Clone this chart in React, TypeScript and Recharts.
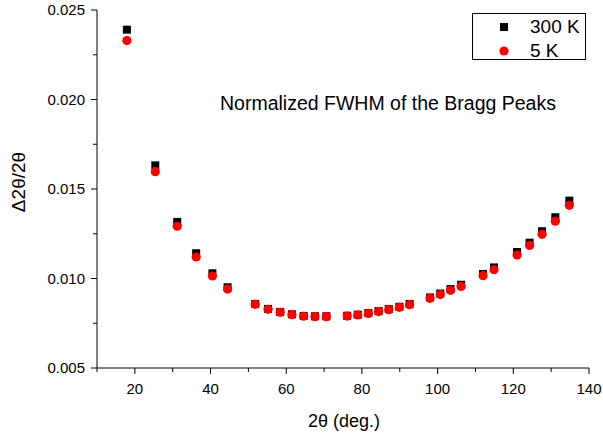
import React from 'react';
import { ScatterChart, Scatter, XAxis, YAxis, Legend } from 'recharts';

// 2theta positions of the Bragg peaks (deg.)
const theta = [
  17.9, 25.4, 31.2, 36.2, 40.5, 44.5, 51.8, 55.2, 58.4, 61.5, 64.6, 67.6, 70.6,
  76.1, 78.9, 81.7, 84.4, 87.1, 89.9, 92.6, 98.0, 100.7, 103.4, 106.2, 112.0,
  114.9, 121.0, 124.3, 127.6, 131.1, 134.8,
];

// normalized FWHM at 300 K
const fwhm300K = [
  0.0239, 0.01632, 0.01316, 0.01141, 0.01029, 0.00951, 0.00858, 0.0083, 0.00813,
  0.008, 0.00791, 0.00789, 0.00789, 0.00792, 0.00798, 0.00807, 0.00818, 0.00829,
  0.00842, 0.00858, 0.00894, 0.00916, 0.00941, 0.00965, 0.01025, 0.01062,
  0.01148, 0.012, 0.01264, 0.01342, 0.01435,
];

// normalized FWHM at 5 K
const fwhm5K = [
  0.02329, 0.01597, 0.01292, 0.0112, 0.01014, 0.00941, 0.00856, 0.00828, 0.00811,
  0.00798, 0.00789, 0.00787, 0.00787, 0.0079, 0.00796, 0.00805, 0.00815, 0.00826,
  0.00839, 0.00854, 0.00889, 0.0091, 0.00934, 0.00956, 0.01016, 0.01049,
  0.01131, 0.01185, 0.01247, 0.0132, 0.01409,
];

const xTicks = [10, 20, 30, 40, 50, 60, 70, 80, 90, 100, 110, 120, 130, 140];
const xMajor = [20, 40, 60, 80, 100, 120, 140];
const yTicks = [0.005, 0.0075, 0.01, 0.0125, 0.015, 0.0175, 0.02, 0.0225, 0.025];
const yMajor = ['0.005', '0.010', '0.015', '0.020', '0.025'];

const FONT = '"Liberation Sans", Arial, sans-serif';

const series300 = theta.map((t, i) => ({ x: t, y: fwhm300K[i] }));
const series5 = theta.map((t, i) => ({ x: t, y: fwhm5K[i] }));

const XTick = (props: any) => {
  const { x, y, payload } = props;
  const major = xMajor.includes(payload.value);
  return (
    <g>
      <line x1={x} x2={x} y1={y} y2={y + (major ? 6 : 4)} stroke="#000" strokeWidth={1} />
      {major && (
        <text x={x} y={y + 26} textAnchor="middle" fontSize={15} fontFamily={FONT} fill="#000">
          {payload.value}
        </text>
      )}
    </g>
  );
};

const YTick = (props: any) => {
  const { x, y, payload } = props;
  const label = payload.value.toFixed(3);
  const major = yMajor.includes(label) && Math.abs(payload.value * 1000 - Math.round(payload.value * 1000)) < 1e-6;
  return (
    <g>
      <line x1={x - (major ? 6 : 4)} x2={x} y1={y} y2={y} stroke="#000" strokeWidth={1} />
      {major && (
        <text x={x - 12} y={y + 5} textAnchor="end" fontSize={15} fontFamily={FONT} fill="#000">
          {label}
        </text>
      )}
    </g>
  );
};

const XTitle = () => (
  <text x={344} y={427} textAnchor="middle" fontSize={18} fontFamily={FONT} fill="#000">
    2θ (deg.)
  </text>
);

const YTitle = () => (
  <text
    x={0}
    y={0}
    transform="translate(25, 182) rotate(-90)"
    textAnchor="middle"
    fontSize={19}
    fontFamily={FONT}
    fill="#000"
  >
    Δ2θ/2θ
  </text>
);

const Square = (props: any) => (
  <rect x={props.cx - 4} y={props.cy - 4} width={8} height={8} fill="#000" />
);

const Dot = (props: any) => <circle cx={props.cx} cy={props.cy} r={4.6} fill="#ff0000" />;

const LegendBox = () => (
  <div
    style={{
      width: 114,
      height: 47,
      border: '1px solid #000',
      boxSizing: 'border-box',
      background: '#fff',
      position: 'relative',
      fontFamily: FONT,
      fontSize: 19,
      color: '#000',
    }}
  >
    <svg width={20} height={47} style={{ position: 'absolute', left: 21, top: 0 }}>
      <rect x={6} y={9} width={8} height={8} fill="#000" />
      <circle cx={10} cy={37} r={4.6} fill="#ff0000" />
    </svg>
    <div style={{ position: 'absolute', left: 57, top: 1, lineHeight: '24px' }}>300 K</div>
    <div style={{ position: 'absolute', left: 57, top: 25, lineHeight: '24px' }}>5 K</div>
  </div>
);

export default function App() {
  return (
    <div style={{ position: 'absolute', left: 0, top: 0, width: 603, height: 435, background: '#fff' }}>
      <ScatterChart width={603} height={435} margin={{ top: 10, right: 14, bottom: 10, left: 0 }}>
        <XAxis
          type="number"
          dataKey="x"
          domain={[10, 140]}
          ticks={xTicks}
          interval={0}
          tick={<XTick />}
          tickSize={0}
          tickMargin={0}
          tickLine={false}
          axisLine={{ stroke: '#000', strokeWidth: 1 }}
          height={57}
          label={<XTitle />}
        />
        <XAxis
          xAxisId="top"
          orientation="top"
          type="number"
          domain={[10, 140]}
          tick={false}
          tickLine={false}
          height={0}
          axisLine={{ stroke: '#808080', strokeWidth: 1.5 }}
        />
        <YAxis
          type="number"
          dataKey="y"
          domain={[0.005, 0.025]}
          ticks={yTicks}
          interval={0}
          tick={<YTick />}
          tickSize={0}
          tickMargin={0}
          tickLine={false}
          axisLine={{ stroke: '#000', strokeWidth: 1 }}
          width={97}
          label={<YTitle />}
        />
        <YAxis
          yAxisId="right"
          orientation="right"
          type="number"
          domain={[0.005, 0.025]}
          tick={false}
          tickLine={false}
          width={0}
          axisLine={{ stroke: '#808080', strokeWidth: 1.5 }}
        />
        <Legend
          layout="horizontal"
          verticalAlign="middle"
          align="center"
          content={() => <LegendBox />}
          wrapperStyle={{ position: 'absolute', left: 472, top: 13, width: 114, height: 47 }}
        />
        <Scatter name="300 K" data={series300} shape={<Square />} isAnimationActive={false} />
        <Scatter name="5 K" data={series5} shape={<Dot />} isAnimationActive={false} />
      </ScatterChart>
      <div
        style={{
          position: 'absolute',
          left: 220,
          top: 92,
          fontFamily: FONT,
          fontSize: 19.5,
          lineHeight: '22px',
          color: '#000',
          whiteSpace: 'nowrap',
        }}
      >
        Normalized FWHM of the Bragg Peaks
      </div>
    </div>
  );
}
